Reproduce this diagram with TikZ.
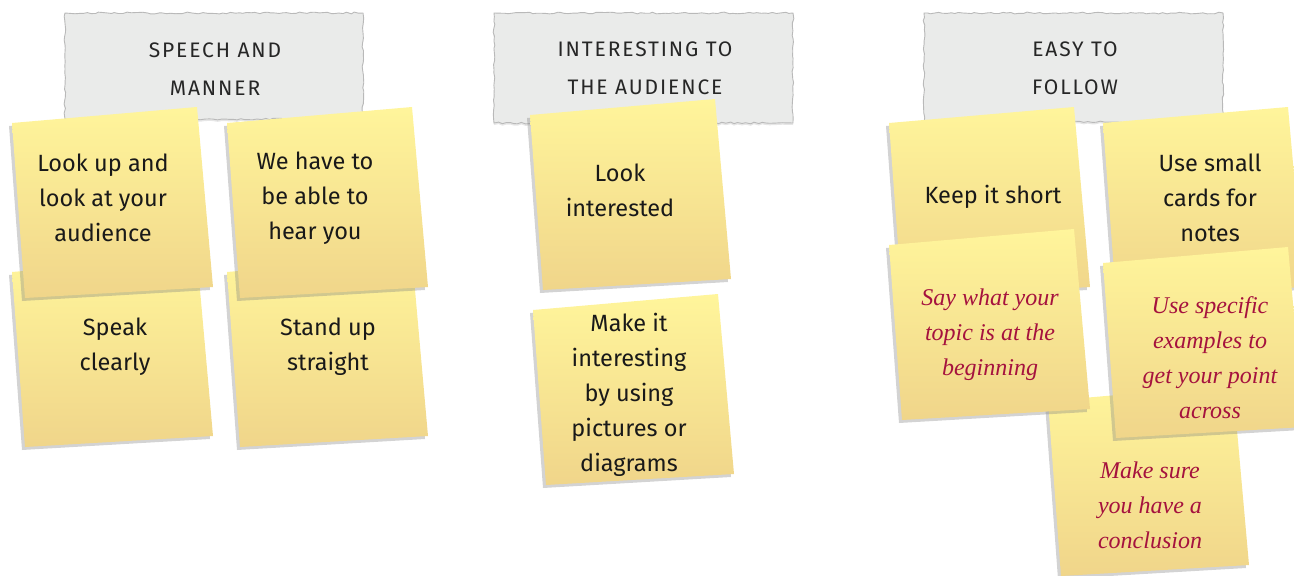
\documentclass[tikz,border=0pt]{standalone}
\usepackage{xcolor}
\usepackage{fontspec}
\usepackage{tikz}
\usetikzlibrary{shadows}
\usetikzlibrary{decorations.pathmorphing}
\usetikzlibrary{positioning}
\newfontfamily\handfont{Fira Sans}
\newfontfamily\capsfont[LetterSpace=9]{Fira Sans}
\newfontfamily\inkfont{Liberation Serif}
\definecolor{notetop}{RGB}{255,245,155}
\definecolor{notebot}{RGB}{240,213,138}
\definecolor{paper}{RGB}{234,235,234}
\definecolor{redink}{RGB}{165,18,62}
% one sticky note: name, top left corner
\newcommand\sticky[2]{\path[note] (#2) coordinate (#1) -- ++(185,-16) -- ++(16,180) -- ++(-188,11) -- cycle;}

\begin{document}
\begin{tikzpicture}[x=1pt,y=-1pt]
	\tikzstyle{tape}=[fill=paper, draw=gray!55, line width=.9pt, decorate, decoration={random steps,segment length=4pt,amplitude=.9pt}, drop shadow={shadow xshift=0pt,shadow yshift=-2pt,opacity=.2}]
	\tikzstyle{note}=[top color=notetop, bottom color=notebot, drop shadow={shadow xshift=-3pt,shadow yshift=-3pt,opacity=.35}]
	\tikzstyle{head}=[font=\capsfont\fontsize{21}{38}\selectfont, text=black!85, align=center]
	\tikzstyle{txt}=[font=\handfont\fontsize{23.5}{35}\selectfont, text=black!90, align=center]
	\tikzstyle{inktxt}=[font=\inkfont\itshape\fontsize{24}{35}\selectfont, text=redink, align=center]
	\useasboundingbox (0,0) rectangle (1294,576);

	% labels
	\path[tape] (65,13) rectangle (363,119);
	\path[tape] (494,13) rectangle (793,123);
	\path[tape] (924,13) rectangle (1223,122);
	\node[head] (h1) at (215,69) {SPEECH AND\\MANNER};
	\node[head] (h2) at (645,68) {INTERESTING TO\\THE AUDIENCE};
	\node[head] (h3) at (1075,68) {EASY TO\\FOLLOW};

	% speech and manner
	\sticky{C}{12,272}
	\sticky{D}{227,272}
	\sticky{A}{12,123}
	\sticky{B}{227,123}
	\node[txt] (tA) at (103,198) {Look up and\\look at your\\audience};
	\node[txt] (tB) at (315,198) {We have to\\be able to\\hear you};
	\node[txt] (tC) at (115,347) {Speak\\clearly};
	\node[txt] (tD) at (328,347) {Stand up\\straight};

	% interesting to the audience
	\sticky{E}{530,115}
	\sticky{F}{533,310}
	\node[txt] (tE) at (620,190) {Look\\interested};
	\node[txt] (tF) at (629,395) {Make it\\interesting\\by using\\pictures or\\diagrams};

	% easy to follow
	\sticky{G}{889,123}
	\sticky{H}{1103,123}
	\sticky{K}{1048,401}
	\sticky{I}{889,245}
	\sticky{J}{1103,263}
	\node[txt] (tG) at (993,197) {Keep it short};
	\node[txt] (tH) at (1210,198) {Use small\\cards for\\notes};
	\node[inktxt] (tI) at (990,335) {Say what your\\topic is at the\\beginning};
	\node[inktxt] (tJ) at (1210,358) {Use specific\\examples to\\get your point\\across};
	\node[inktxt] (tK) at (1150,505) {Make sure\\you have a\\conclusion};
\end{tikzpicture}
\end{document}
